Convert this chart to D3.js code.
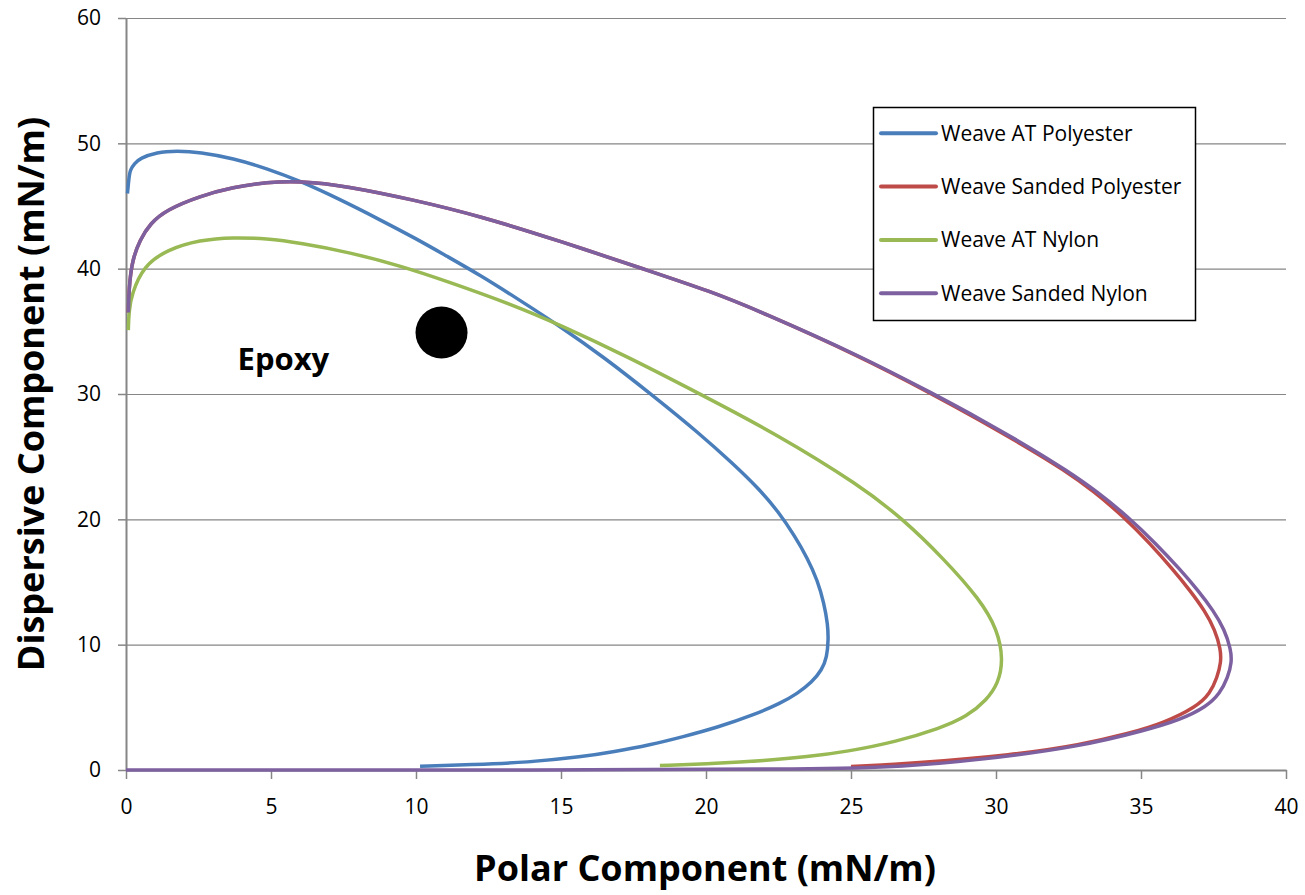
<!DOCTYPE html>
<html>
<head>
<meta charset="utf-8">
<script src="https://cdn.jsdelivr.net/npm/d3@7"></script>
<style>
  body { margin: 0; background: #fff; }
  svg { display: block; font-family: "Open Sans", "Noto Sans", sans-serif; }
</style>
</head>
<body>
<div id="chart"></div>
<script>
// values
const seriesNames = ["Weave AT Polyester", "Weave Sanded Polyester", "Weave AT Nylon", "Weave Sanded Nylon"];
const seriesColors = ["#4a7ebb", "#be4b48", "#98b954", "#7d60a0"];

const atPolyX = [0.05, 0.1, 0.14, 0.3, 0.48, 1.06, 1.75, 2.55, 3.7, 4.85, 6.0, 7.4, 8.76, 10.0, 11.06, 12.2, 13.5, 14.97, 16.5, 18.1, 19.8, 20.9, 21.8, 22.5, 23.05, 23.5, 23.85, 24.07, 24.2, 24.22, 24.17, 24.0, 23.65, 23.15, 22.55, 21.7, 20.4, 19.2, 18.07, 16.8, 15.77, 13.82, 12.0, 10.14];
const atPolyY = [46.0, 47.2, 47.9, 48.4, 48.8, 49.3, 49.4, 49.3, 48.8, 48.0, 47.0, 45.5, 43.9, 42.4, 41.0, 39.5, 37.6, 35.4, 32.9, 30.0, 26.8, 24.5, 22.5, 20.6, 18.7, 16.9, 15.1, 13.3, 11.6, 10.4, 9.0, 8.0, 7.0, 6.1, 5.3, 4.45, 3.4, 2.65, 2.0, 1.45, 1.06, 0.6, 0.43, 0.3];

const sandPolyX = [0.08, 0.1, 0.12, 0.22, 0.48, 0.83, 1.4, 2.55, 3.7, 4.85, 6.0, 7.6, 9.9, 12.2, 14.97, 18.07, 20.14, 21.86, 25.31, 27.8, 29.45, 31.17, 32.3, 33.4, 34.4, 35.3, 36.1, 36.7, 37.2, 37.55, 37.75, 37.76, 37.63, 37.38, 36.92, 35.77, 34.62, 32.9, 30.6, 27.15, 25.0];
const sandPolyY = [36.5, 37.8, 38.8, 40.7, 42.3, 43.6, 44.7, 45.8, 46.5, 46.9, 47.0, 46.6, 45.5, 44.2, 42.2, 39.8, 38.2, 36.6, 33.0, 30.0, 27.9, 25.6, 24.0, 22.2, 20.2, 18.1, 16.0, 14.3, 12.7, 11.2, 9.6, 8.6, 7.4, 6.1, 5.05, 3.73, 2.93, 2.0, 1.2, 0.53, 0.27];

const atNylX = [0.08, 0.1, 0.2, 0.6, 1.4, 2.55, 3.7, 4.85, 6.0, 7.72, 9.5, 11.06, 13.35, 14.97, 17.27, 19.79, 22.43, 25.31, 26.8, 28.18, 29.45, 30.05, 30.25, 30.08, 29.68, 28.99, 28.07, 26.57, 24.85, 23.5, 22.0, 20.4, 18.41];
const atNylY = [35.1, 36.6, 38.0, 40.2, 41.5, 42.3, 42.5, 42.4, 42.05, 41.3, 40.2, 39.0, 37.1, 35.5, 33.0, 30.0, 26.8, 22.7, 20.0, 16.9, 13.6, 11.2, 8.8, 6.92, 5.59, 4.25, 3.33, 2.26, 1.46, 1.05, 0.75, 0.52, 0.35];

const sandNylX = [0.08, 0.1, 0.12, 0.22, 0.48, 0.83, 1.4, 2.55, 3.7, 4.85, 6.0, 7.6, 9.9, 12.2, 14.97, 18.07, 20.14, 21.86, 25.31, 27.85, 29.5, 31.22, 32.37, 33.5, 34.55, 35.5, 36.35, 36.98, 37.5, 37.88, 38.1, 38.13, 38.0, 37.72, 37.26, 36.34, 35.2, 32.9, 29.45, 26.8, 24.0, 15.0, 0];
const sandNylY = [36.5, 37.8, 38.8, 40.7, 42.3, 43.6, 44.7, 45.8, 46.5, 46.9, 47.0, 46.6, 45.5, 44.2, 42.2, 39.8, 38.2, 36.6, 33.05, 30.0, 27.95, 25.65, 24.0, 22.2, 20.2, 18.1, 16.0, 14.3, 12.7, 11.2, 9.6, 8.6, 7.4, 6.1, 5.05, 4.0, 3.2, 1.86, 0.8, 0.27, 0.05, 0, 0];

const epoxyX = [10.88];
const epoxyY = [34.9];
const epoxyLabel = "Epoxy";

const xTicks = [0, 5, 10, 15, 20, 25, 30, 35, 40];
const yTicks = [0, 10, 20, 30, 40, 50, 60];

const width = 1305, height = 895;
const margin = { left: 126, right: 19, top: 18, bottom: 125 };

const svg = d3.select("#chart").append("svg")
  .attr("width", width)
  .attr("height", height);

const x = d3.scaleLinear().domain([0, 40]).range([margin.left, width - margin.right]);
const y = d3.scaleLinear().domain([0, 60]).range([height - margin.bottom, margin.top]);

const gray = "#868686";

// gridlines
svg.append("g")
  .attr("transform", `translate(${margin.left},0)`)
  .call(d3.axisLeft(y).tickValues(yTicks.filter(d => d > 0)).tickSize(-(x(40) - x(0))).tickFormat(""))
  .call(g => g.select(".domain").remove())
  .call(g => g.selectAll("line").attr("stroke", gray).attr("stroke-width", 1.2));

// y axis
svg.append("g")
  .attr("transform", `translate(${margin.left},0)`)
  .call(d3.axisLeft(y).tickValues(yTicks).tickSize(8).tickSizeOuter(0).tickPadding(17))
  .call(g => g.select(".domain").attr("stroke", gray).attr("stroke-width", 2))
  .call(g => g.selectAll(".tick line").attr("stroke", gray).attr("stroke-width", 1.5))
  .call(g => g.selectAll("text").attr("font-size", 21).attr("fill", "#000")
    .attr("font-family", "'Open Sans', sans-serif"));

// x axis
svg.append("g")
  .attr("transform", `translate(0,${y(0)})`)
  .call(d3.axisBottom(x).tickValues(xTicks).tickSize(9).tickSizeOuter(0).tickPadding(20))
  .call(g => g.select(".domain").attr("stroke", gray).attr("stroke-width", 2))
  .call(g => g.selectAll(".tick line").attr("stroke", gray).attr("stroke-width", 1.5))
  .call(g => g.selectAll("text").attr("font-size", 21).attr("fill", "#000")
    .attr("font-family", "'Open Sans', sans-serif"));

// curves
const allX = [atPolyX, sandPolyX, atNylX, sandNylX];
const allY = [atPolyY, sandPolyY, atNylY, sandNylY];

const line = d3.line()
  .x(d => x(d[0]))
  .y(d => y(d[1]))
  .curve(d3.curveBasis);

allX.forEach((xs, i) => {
  const pts = xs.map((v, j) => [v, allY[i][j]]);
  svg.append("path")
    .datum(pts)
    .attr("fill", "none")
    .attr("stroke", seriesColors[i])
    .attr("stroke-width", 3.5)
    .attr("stroke-linejoin", "round")
    .attr("d", line);
});

// epoxy point
svg.selectAll(".epoxy")
  .data(epoxyX.map((v, i) => [v, epoxyY[i]]))
  .enter()
  .append("circle")
  .attr("class", "epoxy")
  .attr("cx", d => x(d[0]))
  .attr("cy", d => y(d[1]))
  .attr("r", 26)
  .attr("fill", "#000");

svg.append("text")
  .attr("x", x(epoxyX[0]) - 204)
  .attr("y", y(epoxyY[0]) + 37)
  .attr("font-size", 31)
  .attr("font-weight", "bold")
  .text(epoxyLabel);

// legend
const legend = svg.append("g");
legend.append("rect")
  .attr("x", 873.5).attr("y", 107.5)
  .attr("width", 322).attr("height", 213)
  .attr("fill", "#fff").attr("stroke", "#000").attr("stroke-width", 1.5);

seriesNames.forEach((name, i) => {
  const ly = 133.3 + i * 53.3;
  legend.append("line")
    .attr("x1", 881).attr("x2", 936)
    .attr("y1", ly).attr("y2", ly)
    .attr("stroke", seriesColors[i]).attr("stroke-width", 4)
    .attr("stroke-linecap", "round");
  legend.append("text")
    .attr("x", 941).attr("y", ly)
    .attr("dy", "0.35em")
    .attr("font-size", 21)
    .attr("fill", "#000")
    .text(name);
});

// axis titles
svg.append("text")
  .attr("x", (x(0) + x(40)) / 2 - 1)
  .attr("y", 881)
  .attr("text-anchor", "middle")
  .attr("font-size", 36)
  .attr("font-weight", "bold")
  .text("Polar Component (mN/m)");

svg.append("text")
  .attr("transform", "translate(44,394) rotate(-90)")
  .attr("text-anchor", "middle")
  .attr("font-size", 36)
  .attr("font-weight", "bold")
  .text("Dispersive Component (mN/m)");
</script>
</body>
</html>
